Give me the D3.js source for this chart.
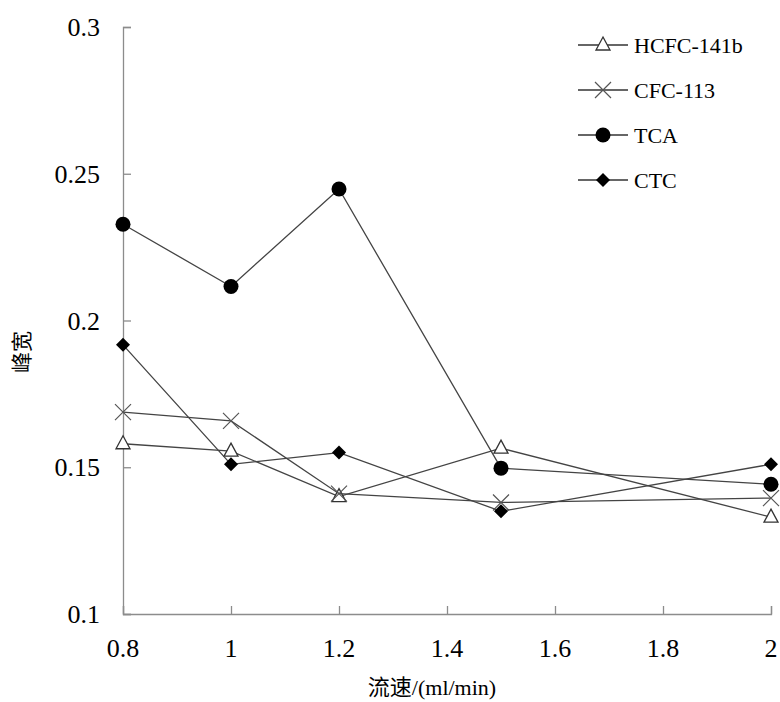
<!DOCTYPE html>
<html>
<head>
<meta charset="utf-8">
<script src="https://d3js.org/d3.v7.min.js"></script>
<style>
  body { margin: 0; background: #fff; }
  text { font-family: "Liberation Serif", "Times New Roman", "Noto Sans CJK SC", serif; fill: #000; }
</style>
</head>
<body>
<div id="chart"></div>
<script>
var flow = [0.8, 1.0, 1.2, 1.5, 2.0];
var hcfc = [0.158, 0.1555, 0.140, 0.1565, 0.133];
var cfc  = [0.1688, 0.1658, 0.141, 0.138, 0.1395];
var tca  = [0.2328, 0.2116, 0.2448, 0.1497, 0.1442];
var ctc  = [0.1917, 0.151, 0.155, 0.135, 0.151];
var seriesNames = ["HCFC-141b", "CFC-113", "TCA", "CTC"];
var xTicks = [0.8, 1, 1.2, 1.4, 1.6, 1.8, 2];
var yTicks = [0.1, 0.15, 0.2, 0.25, 0.3];

var width = 780, height = 702;
var margin = {top: 27, right: 9, bottom: 88, left: 123};

var svg = d3.select("#chart").append("svg")
    .attr("width", width)
    .attr("height", height);

var x = d3.scaleLinear().domain([0.8, 2]).range([margin.left, width - margin.right]);
var y = d3.scaleLinear().domain([0.1, 0.3]).range([height - margin.bottom, margin.top]);

var axisColor = "#8c8c8c";

// x axis, ticks point up into the plot
var xAxis = svg.append("g")
    .attr("transform", "translate(0," + y(0.1) + ")")
    .call(d3.axisTop(x).tickValues(xTicks).tickSizeInner(8).tickSizeOuter(8));
xAxis.selectAll("text").remove();
xAxis.selectAll("line,path").attr("stroke", axisColor).attr("stroke-width", 1.3);

svg.selectAll(".xlab").data(xTicks).enter().append("text")
    .attr("x", function(d) { return x(d); })
    .attr("y", y(0.1) + 43)
    .attr("text-anchor", "middle")
    .style("font-size", "26px")
    .text(function(d) { return d; });

// y axis, ticks point right into the plot
var yAxis = svg.append("g")
    .attr("transform", "translate(" + x(0.8) + ",0)")
    .call(d3.axisRight(y).tickValues(yTicks).tickSizeInner(8).tickSizeOuter(8));
yAxis.selectAll("text").remove();
yAxis.selectAll("line,path").attr("stroke", axisColor).attr("stroke-width", 1.3);

svg.selectAll(".ylab").data(yTicks).enter().append("text")
    .attr("x", 100)
    .attr("y", function(d) { return y(d) + 9; })
    .attr("text-anchor", "end")
    .style("font-size", "26px")
    .text(function(d) { return d; });

// axis titles
svg.append("text")
    .attr("x", 432)
    .attr("y", 695)
    .attr("text-anchor", "middle")
    .style("font-size", "22px")
    .text("流速/(ml/min)");

svg.append("text")
    .attr("transform", "translate(29,352) rotate(-90)")
    .attr("text-anchor", "middle")
    .style("font-size", "21px")
    .text("峰宽");

var allSeries = [hcfc, cfc, tca, ctc];
var markerType = ["triangle", "cross", "circle", "diamond"];

var line = d3.line()
    .x(function(d, i) { return x(flow[i]); })
    .y(function(d) { return y(d); });

function drawMarker(g, type, cx, cy) {
  if (type === "triangle") {
    g.append("path")
      .attr("d", "M0,-8L7,5L-7,5Z")
      .attr("transform", "translate(" + cx + "," + cy + ")")
      .attr("fill", "#fff").attr("stroke", "#333").attr("stroke-width", 1.3);
  } else if (type === "cross") {
    g.append("path")
      .attr("d", "M-8,-8L8,8M-8,8L8,-8")
      .attr("transform", "translate(" + cx + "," + cy + ")")
      .attr("fill", "none").attr("stroke", "#555").attr("stroke-width", 1.2);
  } else if (type === "circle") {
    g.append("circle")
      .attr("cx", cx).attr("cy", cy).attr("r", 7.5)
      .attr("fill", "#000");
  } else {
    g.append("path")
      .attr("d", "M0,-7L7,0L0,7L-7,0Z")
      .attr("transform", "translate(" + cx + "," + cy + ")")
      .attr("fill", "#000");
  }
}

allSeries.forEach(function(vals, s) {
  var g = svg.append("g");
  g.append("path")
    .datum(vals)
    .attr("d", line)
    .attr("fill", "none")
    .attr("stroke", "#444")
    .attr("stroke-width", 1.3);
  vals.forEach(function(v, i) {
    drawMarker(g, markerType[s], x(flow[i]), y(v));
  });
});

// legend
var legend = svg.append("g");
seriesNames.forEach(function(name, i) {
  var ly = 45 + i * 45;
  legend.append("line")
    .attr("x1", 578).attr("x2", 628)
    .attr("y1", ly).attr("y2", ly)
    .attr("stroke", "#333").attr("stroke-width", 1.3);
  drawMarker(legend, markerType[i], 603, ly);
  legend.append("text")
    .attr("x", 634)
    .attr("y", ly + 8)
    .style("font-size", "22px")
    .text(name);
});
</script>
</body>
</html>
